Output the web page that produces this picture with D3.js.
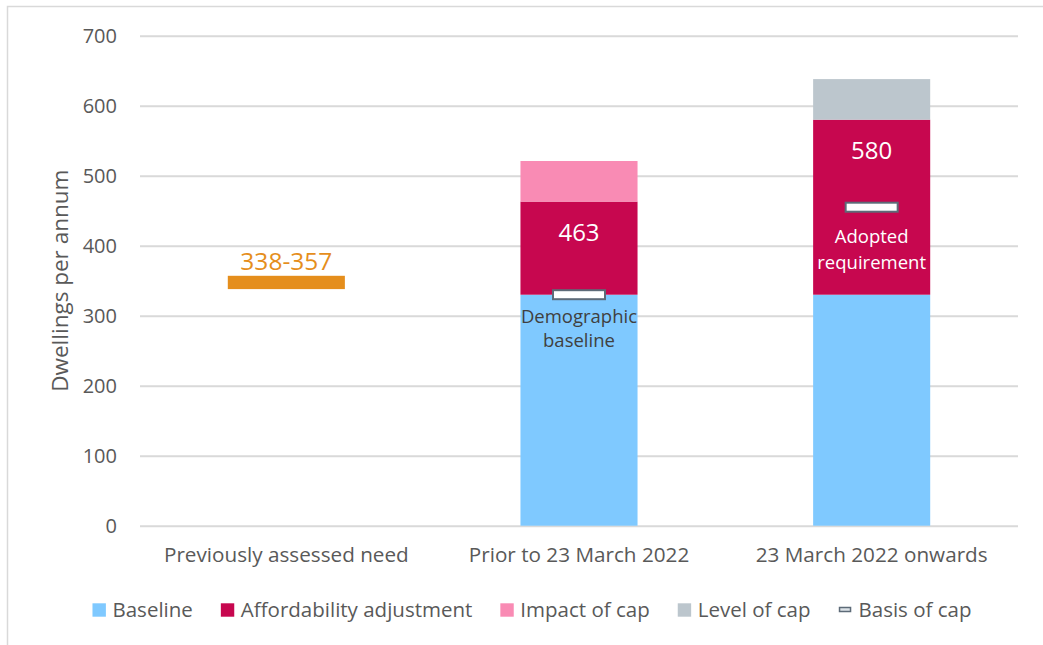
<!DOCTYPE html>
<html>
<head>
<meta charset="utf-8">
<script src="https://cdn.jsdelivr.net/npm/d3@7"></script>
<style>
  body { margin: 0; background: #fff; }
  svg text { font-family: "Open Sans", "Noto Sans", sans-serif; }
</style>
</head>
<body>
<div id="chart"></div>
<script>
// categories and values
const categories = ['Previously assessed need', 'Prior to 23 March 2022', '23 March 2022 onwards']
const baseline = [0, 330, 330]
const affordability = [0, 133, 250]   // 330 + 133 = 463, 330 + 250 = 580
const impactOfCap = [0, 58, 0]        // up to 521
const levelOfCap = [0, 0, 58]         // up to 638
const basisOfCap = [null, 330, 455]
const rangeLow = [338, null, null]
const rangeHigh = [357, null, null]
const totalLabels = [null, '463', '580']
const markerNotes = [null, ['Demographic', 'baseline'], ['Adopted', 'requirement']]
const yTicks = [0, 100, 200, 300, 400, 500, 600, 700]

const seriesNames = ['Baseline', 'Affordability adjustment', 'Impact of cap', 'Level of cap']
const seriesColors = ['#7fc9ff', '#c7074f', '#f98bb4', '#bcc6cd']

const width = 1043
const height = 645
const margin = { left: 140, right: 25, top: 35.7, bottom: 119.3 }
const textColor = '#595959'
const gridColor = '#d9d9d9'

const svg = d3.select('#chart')
  .append('svg')
  .attr('width', width)
  .attr('height', height)

// chart area border (only top and left show in the picture)
svg.append('path')
  .attr('d', `M7.5,${height} L7.5,6.5 L${width},6.5`)
  .attr('fill', 'none')
  .attr('stroke', gridColor)
  .attr('stroke-width', 1.5)

const x = d3.scaleBand()
  .domain(categories)
  .range([margin.left, width - margin.right])
  .paddingInner(0.6)
  .paddingOuter(0.3)

const y = d3.scaleLinear()
  .domain([0, 700])
  .range([height - margin.bottom, margin.top])

// gridlines + tick labels
const yAxis = svg.append('g')
  .attr('transform', `translate(${margin.left},0)`)
  .call(d3.axisLeft(y).tickValues(yTicks).tickSize(-(width - margin.right - margin.left)).tickPadding(23))
yAxis.select('.domain').remove()
yAxis.selectAll('.tick line').attr('stroke', gridColor).attr('stroke-width', 2)
yAxis.selectAll('.tick text')
  .attr('fill', textColor)
  .style('font-size', '20px')

// category labels
const xAxis = svg.append('g')
  .attr('transform', `translate(0,${height - margin.bottom})`)
  .call(d3.axisBottom(x).tickSize(0).tickPadding(22))
xAxis.select('.domain').remove()
xAxis.selectAll('.tick text')
  .attr('fill', textColor)
  .style('font-size', '20.7px')

// axis title
svg.append('text')
  .attr('transform', `translate(68,${(y(0) + y(700)) / 2}) rotate(-90)`)
  .attr('text-anchor', 'middle')
  .attr('fill', textColor)
  .style('font-size', '22.5px')
  .text('Dwellings per annum')

// stacked bars
const rows = categories.map((c, i) => ({
  cat: c,
  Baseline: baseline[i],
  'Affordability adjustment': affordability[i],
  'Impact of cap': impactOfCap[i],
  'Level of cap': levelOfCap[i]
}))
const stacked = d3.stack().keys(seriesNames)(rows)

svg.append('g')
  .selectAll('g')
  .data(stacked)
  .enter()
  .append('g')
  .attr('fill', (d, i) => seriesColors[i])
  .selectAll('rect')
  .data(d => d.filter(s => s[1] > s[0]))
  .enter()
  .append('rect')
  .attr('x', d => x(d.data.cat))
  .attr('width', x.bandwidth())
  .attr('y', d => y(d[1]))
  .attr('height', d => y(d[0]) - y(d[1]))

// previously assessed range bar
const rangeData = categories.map((c, i) => ({ cat: c, lo: rangeLow[i], hi: rangeHigh[i] })).filter(d => d.lo != null)
svg.append('g')
  .selectAll('rect')
  .data(rangeData)
  .enter()
  .append('rect')
  .attr('x', d => x(d.cat))
  .attr('width', x.bandwidth())
  .attr('y', d => y(d.hi))
  .attr('height', d => y(d.lo) - y(d.hi))
  .attr('fill', '#e58e1c')
svg.append('g')
  .selectAll('text')
  .data(rangeData)
  .enter()
  .append('text')
  .attr('x', d => x(d.cat) + x.bandwidth() / 2)
  .attr('y', d => y(d.hi) - 6)
  .attr('text-anchor', 'middle')
  .attr('fill', '#e58e1c')
  .style('font-size', '24.5px')
  .text(d => d.lo + '-' + d.hi)

// total labels in the affordability segment
const totals = categories.map((c, i) => ({ cat: c, t: totalLabels[i], v: baseline[i] + affordability[i] })).filter(d => d.t)
svg.append('g')
  .selectAll('text')
  .data(totals)
  .enter()
  .append('text')
  .attr('x', d => x(d.cat) + x.bandwidth() / 2)
  .attr('y', d => y(d.v) + 39)
  .attr('text-anchor', 'middle')
  .attr('fill', '#ffffff')
  .style('font-size', '24px')
  .text(d => d.t)

// basis of cap markers
const markers = categories.map((c, i) => ({ cat: c, v: basisOfCap[i], note: markerNotes[i], i: i })).filter(d => d.v != null)
const mk = svg.append('g')
  .selectAll('g')
  .data(markers)
  .enter()
  .append('g')
mk.append('rect')
  .attr('x', d => x(d.cat) + x.bandwidth() / 2 - 26)
  .attr('width', 52)
  .attr('y', d => y(d.v) - 4.5)
  .attr('height', 9)
  .attr('fill', '#ffffff')
  .attr('stroke', '#5d6b78')
  .attr('stroke-width', 2)
mk.each(function (d) {
  const white = d.i === 2
  const t = d3.select(this).append('text')
    .attr('text-anchor', 'middle')
    .attr('fill', white ? '#ffffff' : '#404040')
    .style('font-size', '18.5px')
  d.note.forEach((line, k) => {
    t.append('tspan')
      .attr('x', x(d.cat) + x.bandwidth() / 2)
      .attr('y', y(d.v) + (white ? 36 : 28) + k * (white ? 25.5 : 24))
      .text(line)
  })
})

// legend
const legendItems = seriesNames.map((n, i) => ({ name: n, color: seriesColors[i], type: 'box' }))
legendItems.push({ name: 'Basis of cap', type: 'dash' })
const legend = svg.append('g')
const legendY = 610
let lx = 0
legendItems.forEach(item => {
  const g = legend.append('g').attr('transform', `translate(${lx},0)`)
  if (item.type === 'box') {
    g.append('rect')
      .attr('x', 0).attr('y', legendY - 6.7)
      .attr('width', 13.4).attr('height', 13.4)
      .attr('fill', item.color)
  } else {
    g.append('rect')
      .attr('x', 1).attr('y', legendY - 2.5)
      .attr('width', 11).attr('height', 4)
      .attr('fill', '#dde3e8')
      .attr('stroke', '#5d6b78')
      .attr('stroke-width', 1.5)
  }
  const t = g.append('text')
    .attr('x', 20)
    .attr('y', legendY + 7)
    .attr('fill', textColor)
    .style('font-size', '20.5px')
    .text(item.name)
  lx += 20 + t.node().getComputedTextLength() + 28
})
lx -= 28
legend.attr('transform', `translate(${532 - lx / 2},0)`)
</script>
</body>
</html>
